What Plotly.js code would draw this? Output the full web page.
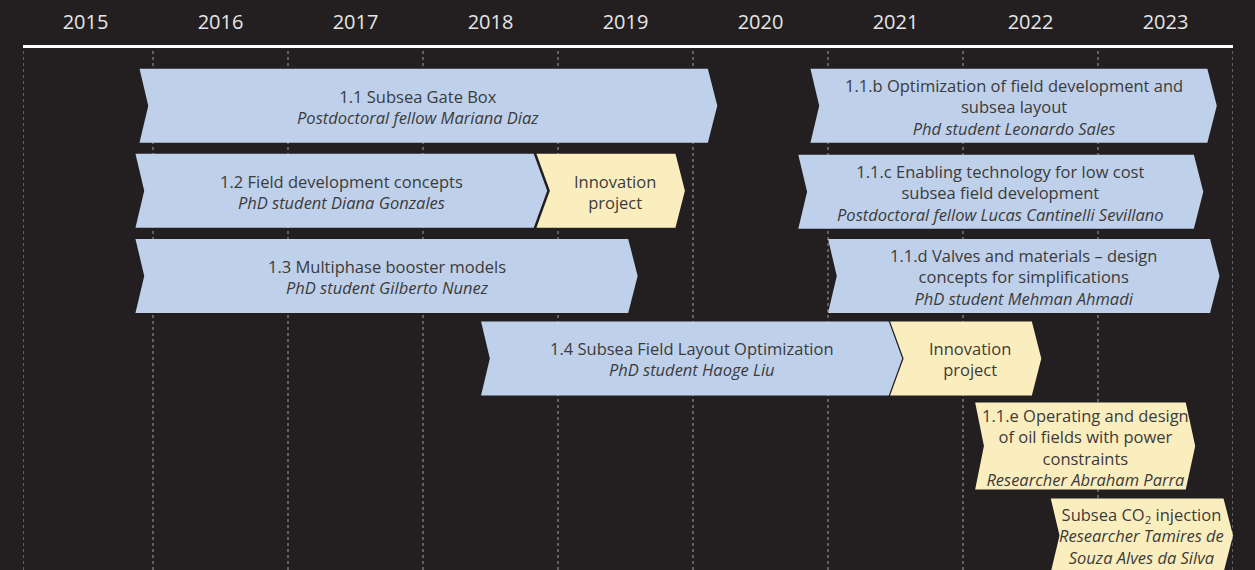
<!DOCTYPE html>
<html>
<head>
<meta charset="utf-8">
<script src="https://cdn.plot.ly/plotly-3.0.1.min.js"></script>
<style>html,body{margin:0;padding:0;background:#231f20;}#chart{width:1255px;height:570px;}</style>
</head>
<body>
<div id="chart"></div>
<script>
// ---- data ----
const years = [2015, 2016, 2017, 2018, 2019, 2020, 2021, 2022, 2023];
const taskIds = ['1.1', '1.2', 'IP-1', '1.3', '1.4', 'IP-2', '1.1.b', '1.1.c', '1.1.d', '1.1.e', 'CO2'];
const taskStart = [2015.90, 2015.87, 2018.84, 2015.87, 2018.43, 2021.46, 2020.87, 2020.78, 2021.00, 2022.09, 2022.65];
const taskEnd   = [2020.18, 2018.92, 2019.94, 2019.59, 2021.55, 2022.58, 2023.88, 2023.78, 2023.90, 2023.72, 2024.00];
const taskLane  = [1, 2, 2, 3, 3.97, 3.97, 1, 2.01, 3, 5, 6.05];
const taskKind  = ['project', 'project', 'innovation', 'project', 'project', 'innovation',
                   'project', 'project', 'project', 'innovation', 'innovation'];
const taskTitle = [
  ['1.1 Subsea Gate Box'],
  ['1.2 Field development concepts'],
  ['Innovation', 'project'],
  ['1.3 Multiphase booster models'],
  ['1.4 Subsea Field Layout Optimization'],
  ['Innovation', 'project'],
  ['1.1.b Optimization of field development and', 'subsea layout'],
  ['1.1.c Enabling technology for low cost', 'subsea field development'],
  ['1.1.d Valves and materials \u2013 design', 'concepts for simplifications'],
  ['1.1.e Operating and design', 'of oil fields with power', 'constraints'],
  ['Subsea CO<sub>2</sub> injection']
];
const taskPerson = [
  ['Postdoctoral fellow Mariana Diaz'],
  ['PhD student Diana Gonzales'],
  [],
  ['PhD student Gilberto Nunez'],
  ['PhD student Haoge Liu'],
  [],
  ['Phd student Leonardo Sales'],
  ['Postdoctoral fellow Lucas Cantinelli Sevillano'],
  ['PhD student Mehman Ahmadi'],
  ['Researcher Abraham Parra'],
  ['Researcher Tamires de', 'Souza Alves da Silva']
];

// ---- drawing ----
const BG = '#231f20';
const FILL = {project: '#bfd0ea', innovation: '#fbeebe'};
const TXT = '#3b3b3b';
const xMin = 2015.037, xMax = 2024.0;

const shapes = [];
// dotted year boundaries
[xMin].concat(years.map(y => y + 1)).forEach(b => {
  shapes.push({type: 'line', xref: 'x', yref: 'paper', x0: b, x1: b, y0: 0, y1: 1,
    layer: 'below', line: {color: '#a0a0a0', width: 1, dash: 'dot'}});
});

const annotations = [];
taskIds.forEach((id, i) => {
  const x0 = taskStart[i], x1 = taskEnd[i], yc = taskLane[i];
  const lines = taskTitle[i].concat(taskPerson[i].map(t => '<i>' + t + '</i>'));
  const half = lines.length > 3 ? 0.511 : 0.435;
  // deeper joints where a project flows straight into an innovation block
  const feedsNext = taskIds.some((o, j) => j !== i && taskLane[j] === yc && Math.abs(taskStart[j] - x1) < 0.15);
  const fedByPrev = taskIds.some((o, j) => j !== i && taskLane[j] === yc && Math.abs(taskEnd[j] - x0) < 0.15);
  const dTip = feedsNext ? 0.1 : 0.07;
  const dNotch = fedByPrev ? 0.1 : 0.065;
  const yt = yc - half, yb = yc + half;
  const path = `M ${x0},${yt} L ${x1 - dTip},${yt} L ${x1},${yc} L ${x1 - dTip},${yb} L ${x0},${yb} L ${x0 + dNotch},${yc} Z`;
  shapes.push({type: 'path', xref: 'x', yref: 'y', path: path, fillcolor: FILL[taskKind[i]],
    line: {width: 0}, layer: 'above'});
  const n = lines.length;
  const xc = (x0 + x1) / 2 + (id === '1.1' ? -0.08 : (taskKind[i] === 'innovation' && n === 2 ? 0.03 : 0));
  annotations.push({x: xc, y: yc, xref: 'x', yref: 'y', text: lines.join('<br>'), showarrow: false,
    xanchor: 'center', yanchor: 'middle', align: 'center', yshift: -1,
    font: {family: 'Open Sans', size: 16.5, color: TXT}});
});

const layout = {
  width: 1255, height: 570,
  paper_bgcolor: BG, plot_bgcolor: BG,
  margin: {l: 23, r: 22, t: 48, b: 0, pad: 0},
  showlegend: false,
  xaxis: {range: [xMin, xMax], side: 'top', tickvals: years.map(y => y + 0.5),
    ticktext: years.map(String), ticks: '', showgrid: false, zeroline: false,
    showline: true, linecolor: '#ffffff', linewidth: 3, fixedrange: true,
    tickfont: {family: 'Open Sans', size: 20, color: '#e6e6e6'}, ticklabelstandoff: 8},
  yaxis: {range: [6.456, 0.322], visible: false, fixedrange: true},
  shapes: shapes,
  annotations: annotations
};

Plotly.newPlot('chart', [{x: [xMin], y: [1], mode: 'markers', marker: {opacity: 0}, hoverinfo: 'skip'}], layout,
  {displayModeBar: false, staticPlot: true});
</script>
</body>
</html>
